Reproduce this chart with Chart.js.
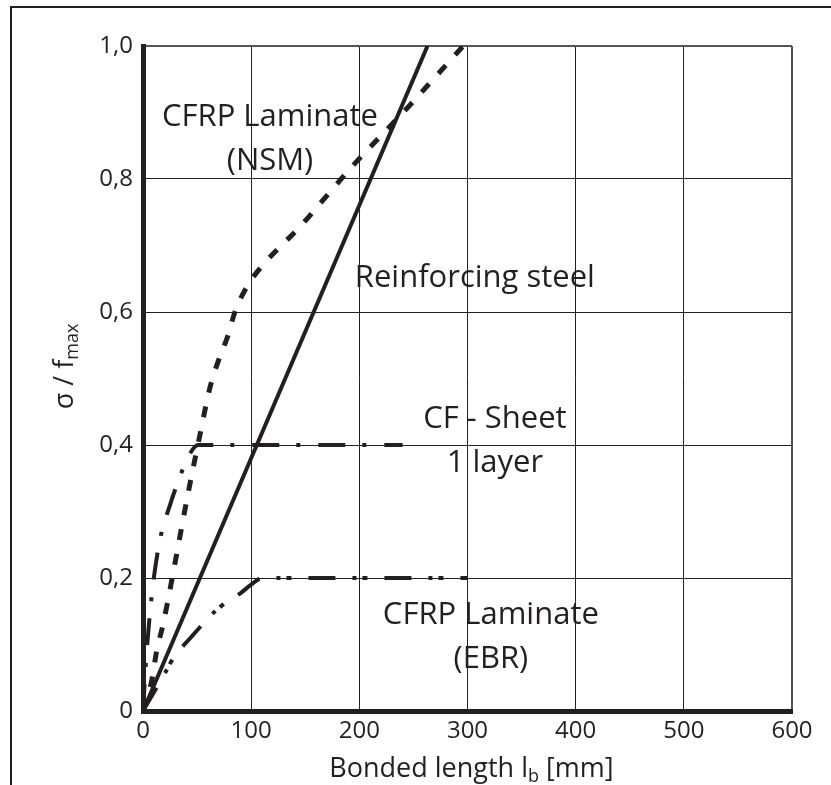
<!DOCTYPE html>
<html>
<head>
<meta charset="utf-8">
<script src="https://cdn.jsdelivr.net/npm/chart.js@4.4.0/dist/chart.umd.min.js"></script>
<style>
  html, body { margin: 0; padding: 0; background: #fff; }
  canvas { display: block; }
</style>
</head>
<body>
<canvas id="chart" width="831" height="785"></canvas>
<script>
// values: bonded length (mm) vs sigma / f_max
const steelX = [0, 263];
const steelY = [0, 1.0];

const nsmX = [0, 4, 8, 12.6, 18.5, 27, 35, 42, 52, 62, 70, 78, 85, 96, 111, 128, 145, 170, 194, 220, 245, 270, 296];
const nsmY = [0, 0.02, 0.045, 0.09, 0.13, 0.2, 0.27, 0.33, 0.41, 0.487, 0.528, 0.562, 0.6, 0.638, 0.671, 0.70, 0.728, 0.775, 0.82, 0.865, 0.908, 0.953, 1.0];

const sheetX = [0, 3, 6, 10, 16, 25, 34, 43, 51, 240];
const sheetY = [0, 0.08, 0.14, 0.2, 0.26, 0.31, 0.352, 0.386, 0.4, 0.4];

const ebrX = [0, 10, 22, 27, 45, 66, 74, 90, 100, 110, 300];
const ebrY = [0, 0.028, 0.062, 0.077, 0.112, 0.149, 0.16, 0.177, 0.19, 0.2, 0.2];

const xTicks = [0, 100, 200, 300, 400, 500, 600];
const yTicks = [0, 0.2, 0.4, 0.6, 0.8, 1.0];
const yTickLabels = ['0', '0,2', '0,4', '0,6', '0,8', '1,0'];

const labelTexts = [
    ['CFRP Laminate', '(NSM)'],
    ['Reinforcing steel'],
    ['CF - Sheet', '1 layer'],
    ['CFRP Laminate', '(EBR)']
];
// where each label block sits (data units: centre x, first baseline y)
const labelAnchors = [[117.4, 0.879], [306.8, 0.638], [325.3, 0.426], [321.6, 0.131]];

const ink = '#231f20';
const fontFamily = '"Open Sans", "Noto Sans", sans-serif';

function toPoints(xs, ys) {
    const pts = [];
    for (let i = 0; i < xs.length; i++) {
        pts.push({x: xs[i], y: ys[i]});
    }
    return pts;
}

const textPlugin = {
    id: 'texts',
    beforeDraw(chart) {
        const c = chart.ctx;
        // outer frame (left and top edge only visible)
        c.save();
        c.strokeStyle = ink;
        c.lineWidth = 2;
        c.beginPath();
        c.moveTo(11, chart.height);
        c.lineTo(11, 7);
        c.lineTo(chart.width, 7);
        c.stroke();
        c.restore();
    },
    afterDatasetsDraw(chart) {
        const c = chart.ctx;
        const xs = chart.scales.x, ys = chart.scales.y;
        const area = chart.chartArea;
        c.save();
        c.fillStyle = ink;
        c.textBaseline = 'alphabetic';

        // annotations
        c.font = '31px ' + fontFamily;
        c.textAlign = 'center';
        for (let i = 0; i < labelTexts.length; i++) {
            const px = xs.getPixelForValue(labelAnchors[i][0]);
            const py = ys.getPixelForValue(labelAnchors[i][1]);
            labelTexts[i].forEach((t, j) => c.fillText(t, px, py + j * 44));
        }

        // x axis title with subscript
        c.textAlign = 'left';
        const mainFont = '27px ' + fontFamily;
        const subFont = '18px ' + fontFamily;
        const xParts = [['Bonded length l', mainFont, 0], ['b', subFont, 5], [' [mm]', mainFont, 0]];
        drawParts(c, xParts, (area.left + area.right) / 2 + 4, area.bottom + 66);

        // y axis title, rotated
        c.translate(area.left - 70, (area.top + area.bottom) / 2 - 12);
        c.rotate(-Math.PI / 2);
        const yParts = [['\u03c3 / f', mainFont, 0], ['max', subFont, 5]];
        drawParts(c, yParts, 0, 0);
        c.restore();
    }
};

function drawParts(c, parts, cx, baseY) {
    let total = 0;
    parts.forEach(p => { c.font = p[1]; total += c.measureText(p[0]).width; });
    let x = cx - total / 2;
    parts.forEach(p => {
        c.font = p[1];
        c.fillText(p[0], x, baseY + p[2]);
        x += c.measureText(p[0]).width;
    });
}

const lineStyle = {
    showLine: true,
    pointRadius: 0,
    borderColor: ink,
    fill: false,
    cubicInterpolationMode: 'monotone'
};

new Chart(document.getElementById('chart'), {
    type: 'scatter',
    data: {
        datasets: [
            Object.assign({label: 'Reinforcing steel', data: toPoints(steelX, steelY), borderWidth: 4}, lineStyle),
            Object.assign({label: 'CFRP Laminate (NSM)', data: toPoints(nsmX, nsmY), borderWidth: 5, borderDash: [11, 14]}, lineStyle),
            Object.assign({label: 'CF - Sheet 1 layer', data: toPoints(sheetX, sheetY), borderWidth: 4, borderDash: [27, 17, 4, 18]}, lineStyle),
            Object.assign({label: 'CFRP Laminate (EBR)', data: toPoints(ebrX, ebrY), borderWidth: 4, borderDash: [27, 17, 4, 6, 5, 17]}, lineStyle)
        ]
    },
    options: {
        responsive: false,
        animation: false,
        devicePixelRatio: 1,
        layout: {padding: {left: 0, top: 46, right: 39, bottom: 0}},
        plugins: {
            legend: {display: false},
            tooltip: {enabled: false}
        },
        scales: {
            x: {
                type: 'linear',
                min: 0,
                max: 600,
                afterFit: (scale) => { scale.height = 74; },
                afterBuildTicks: (scale) => { scale.ticks = xTicks.map(v => ({value: v})); },
                ticks: {
                    color: ink,
                    font: {family: fontFamily, size: 24},
                    padding: 6,
                    maxRotation: 0,
                    callback: (v) => String(v)
                },
                grid: {
                    drawTicks: false,
                    color: (ctx) => (ctx.tick && ctx.tick.value === 600 ? '#555' : '#222'),
                    lineWidth: (ctx) => (ctx.tick && ctx.tick.value === 600 ? 2 : 1)
                },
                border: {color: ink, width: 5}
            },
            y: {
                type: 'linear',
                min: 0,
                max: 1,
                afterFit: (scale) => { scale.width = 143; },
                afterBuildTicks: (scale) => { scale.ticks = yTicks.map(v => ({value: v})); },
                ticks: {
                    color: ink,
                    font: {family: fontFamily, size: 24},
                    padding: 10,
                    callback: (v) => yTickLabels[yTicks.indexOf(Math.round(v * 10) / 10)]
                },
                grid: {
                    drawTicks: false,
                    color: (ctx) => (ctx.tick && ctx.tick.value === 1 ? '#555' : '#222'),
                    lineWidth: (ctx) => (ctx.tick && ctx.tick.value === 1 ? 2 : 1)
                },
                border: {color: ink, width: 5}
            }
        }
    },
    plugins: [textPlugin]
});
</script>
</body>
</html>
